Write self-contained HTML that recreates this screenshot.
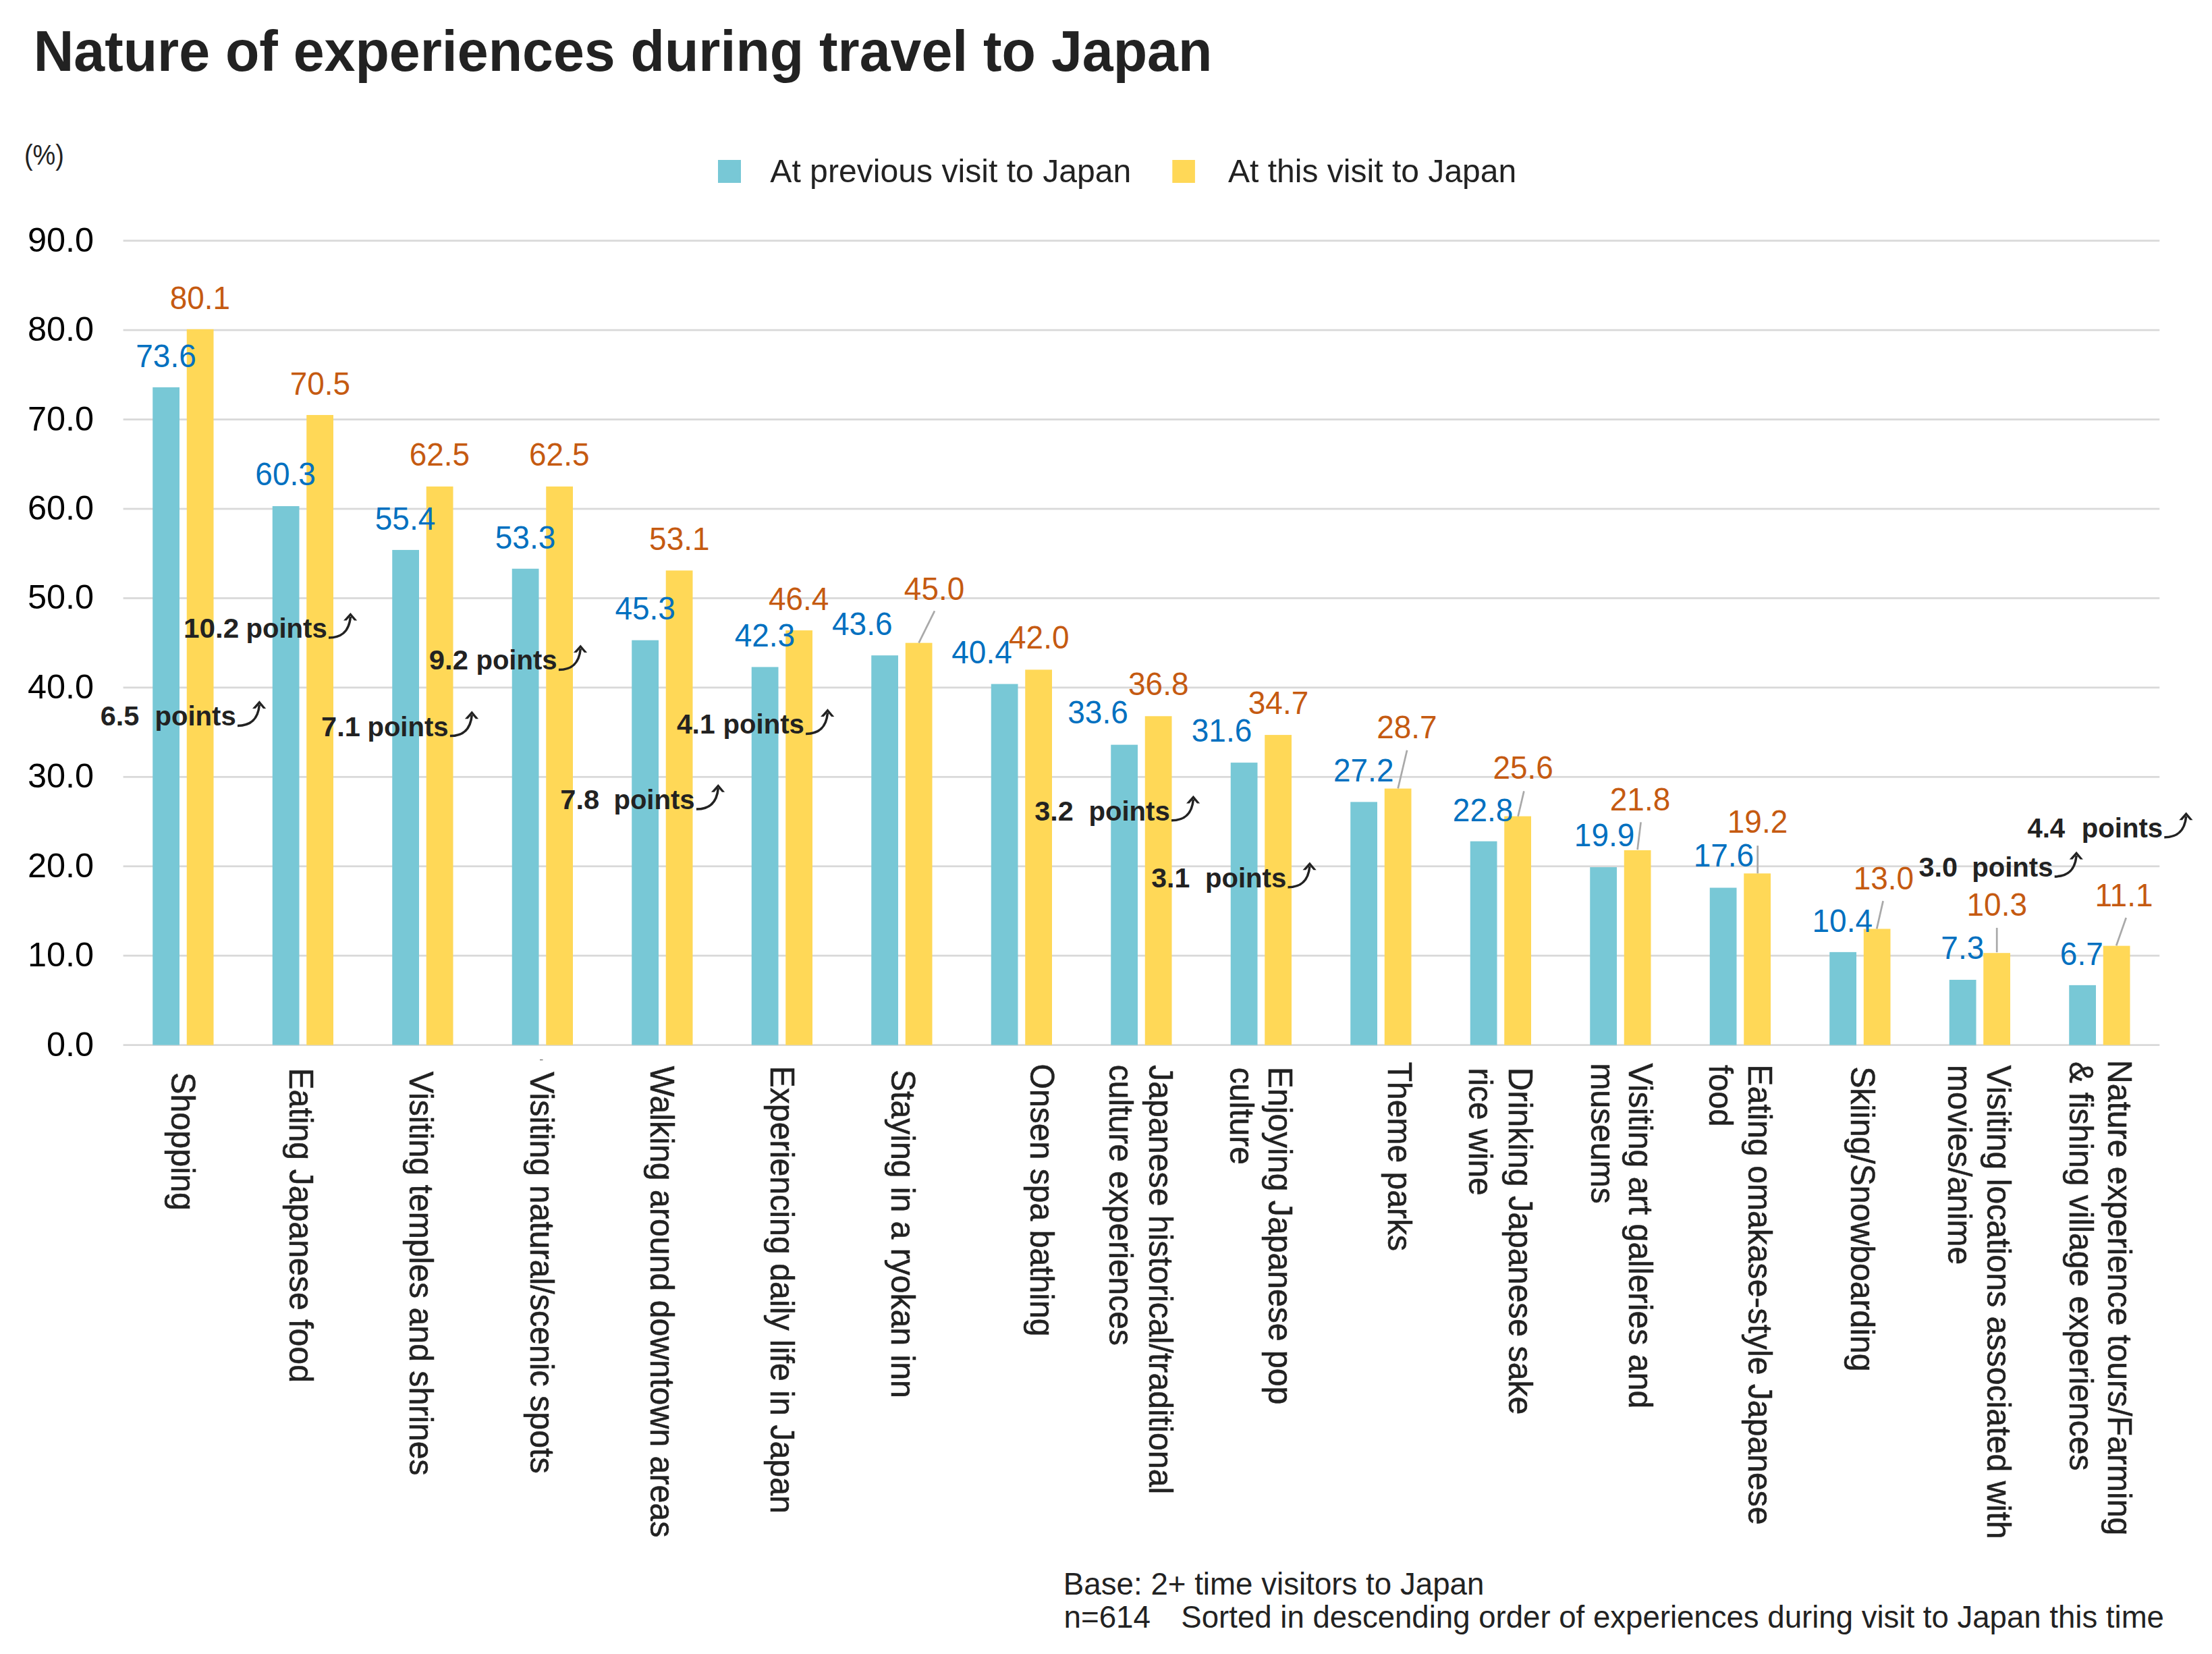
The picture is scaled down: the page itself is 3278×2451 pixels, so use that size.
<!DOCTYPE html>
<html><head><meta charset="utf-8"><title>Nature of experiences during travel to Japan</title>
<style>html,body{margin:0;padding:0;background:#fff}svg{display:block}text{font-family:"Liberation Sans",sans-serif;white-space:pre}</style></head>
<body><svg width="3278" height="2451" viewBox="0 0 3278 2451">
<rect width="3278" height="2451" fill="#fff"/>
<rect x="182.6" y="1547.20" width="3017.7" height="2.8" fill="#D9D9D9"/>
<rect x="182.6" y="1414.77" width="3017.7" height="2.8" fill="#D9D9D9"/>
<rect x="182.6" y="1282.34" width="3017.7" height="2.8" fill="#D9D9D9"/>
<rect x="182.6" y="1149.91" width="3017.7" height="2.8" fill="#D9D9D9"/>
<rect x="182.6" y="1017.48" width="3017.7" height="2.8" fill="#D9D9D9"/>
<rect x="182.6" y="885.05" width="3017.7" height="2.8" fill="#D9D9D9"/>
<rect x="182.6" y="752.62" width="3017.7" height="2.8" fill="#D9D9D9"/>
<rect x="182.6" y="620.19" width="3017.7" height="2.8" fill="#D9D9D9"/>
<rect x="182.6" y="487.76" width="3017.7" height="2.8" fill="#D9D9D9"/>
<rect x="182.6" y="355.33" width="3017.7" height="2.8" fill="#D9D9D9"/>
<rect x="226.25" y="573.92" width="39.75" height="974.68" fill="#78C8D6"/>
<rect x="276.75" y="487.84" width="39.75" height="1060.76" fill="#FFD857"/>
<rect x="403.75" y="750.05" width="39.75" height="798.55" fill="#78C8D6"/>
<rect x="454.25" y="614.97" width="39.75" height="933.63" fill="#FFD857"/>
<rect x="581.25" y="814.94" width="39.75" height="733.66" fill="#78C8D6"/>
<rect x="631.75" y="720.91" width="39.75" height="827.69" fill="#FFD857"/>
<rect x="758.75" y="842.75" width="39.75" height="705.85" fill="#78C8D6"/>
<rect x="809.25" y="720.91" width="39.75" height="827.69" fill="#FFD857"/>
<rect x="936.25" y="948.69" width="39.75" height="599.91" fill="#78C8D6"/>
<rect x="986.75" y="845.40" width="39.75" height="703.20" fill="#FFD857"/>
<rect x="1113.75" y="988.42" width="39.75" height="560.18" fill="#78C8D6"/>
<rect x="1164.25" y="934.12" width="39.75" height="614.48" fill="#FFD857"/>
<rect x="1291.25" y="971.21" width="39.75" height="577.39" fill="#78C8D6"/>
<rect x="1341.75" y="952.66" width="39.75" height="595.94" fill="#FFD857"/>
<rect x="1468.75" y="1013.58" width="39.75" height="535.02" fill="#78C8D6"/>
<rect x="1519.25" y="992.39" width="39.75" height="556.21" fill="#FFD857"/>
<rect x="1646.25" y="1103.64" width="39.75" height="444.96" fill="#78C8D6"/>
<rect x="1696.75" y="1061.26" width="39.75" height="487.34" fill="#FFD857"/>
<rect x="1823.75" y="1130.12" width="39.75" height="418.48" fill="#78C8D6"/>
<rect x="1874.25" y="1089.07" width="39.75" height="459.53" fill="#FFD857"/>
<rect x="2001.25" y="1188.39" width="39.75" height="360.21" fill="#78C8D6"/>
<rect x="2051.75" y="1168.53" width="39.75" height="380.07" fill="#FFD857"/>
<rect x="2178.75" y="1246.66" width="39.75" height="301.94" fill="#78C8D6"/>
<rect x="2229.25" y="1209.58" width="39.75" height="339.02" fill="#FFD857"/>
<rect x="2356.25" y="1285.06" width="39.75" height="263.54" fill="#78C8D6"/>
<rect x="2406.75" y="1259.90" width="39.75" height="288.70" fill="#FFD857"/>
<rect x="2533.75" y="1315.52" width="39.75" height="233.08" fill="#78C8D6"/>
<rect x="2584.25" y="1294.33" width="39.75" height="254.27" fill="#FFD857"/>
<rect x="2711.25" y="1410.87" width="39.75" height="137.73" fill="#78C8D6"/>
<rect x="2761.75" y="1376.44" width="39.75" height="172.16" fill="#FFD857"/>
<rect x="2888.75" y="1451.93" width="39.75" height="96.67" fill="#78C8D6"/>
<rect x="2939.25" y="1412.20" width="39.75" height="136.40" fill="#FFD857"/>
<rect x="3066.25" y="1459.87" width="39.75" height="88.73" fill="#78C8D6"/>
<rect x="3116.75" y="1401.60" width="39.75" height="147.00" fill="#FFD857"/>
<text transform="translate(68.91,1564.60) scale(1.0200,1)" font-size="49.50" fill="#000">0.0</text>
<text transform="translate(40.89,1432.17) scale(1.0200,1)" font-size="49.50" fill="#000">10.0</text>
<text transform="translate(40.89,1299.74) scale(1.0200,1)" font-size="49.50" fill="#000">20.0</text>
<text transform="translate(40.89,1167.31) scale(1.0200,1)" font-size="49.50" fill="#000">30.0</text>
<text transform="translate(40.89,1034.88) scale(1.0200,1)" font-size="49.50" fill="#000">40.0</text>
<text transform="translate(40.89,902.45) scale(1.0200,1)" font-size="49.50" fill="#000">50.0</text>
<text transform="translate(40.89,770.02) scale(1.0200,1)" font-size="49.50" fill="#000">60.0</text>
<text transform="translate(40.89,637.59) scale(1.0200,1)" font-size="49.50" fill="#000">70.0</text>
<text transform="translate(40.89,505.16) scale(1.0200,1)" font-size="49.50" fill="#000">80.0</text>
<text transform="translate(40.89,372.73) scale(1.0200,1)" font-size="49.50" fill="#000">90.0</text>
<text transform="translate(49.73,104.60) scale(0.9706,1)" font-size="85.00" fill="#222222" font-weight="700">Nature of experiences during travel to Japan</text>
<text transform="translate(35.93,243.90) scale(0.8733,1)" font-size="43.40" fill="#222222">(%)</text>
<rect x="1064" y="237" width="34" height="34" fill="#78C8D6"/>
<rect x="1737.3" y="237" width="33.6" height="34" fill="#FFD857"/>
<text transform="translate(1141.28,269.80) scale(0.9903,1)" font-size="48.60" fill="#222222">At previous visit to Japan</text>
<text transform="translate(1819.88,269.80) scale(0.9891,1)" font-size="48.60" fill="#222222">At this visit to Japan</text>
<text transform="translate(201.25,544.10) scale(0.9680,1)" font-size="47.50" fill="#0070C0">73.6</text>
<text transform="translate(251.65,458.20) scale(0.9680,1)" font-size="47.50" fill="#C55A11">80.1</text>
<text transform="translate(378.36,719.30) scale(0.9680,1)" font-size="47.50" fill="#0070C0">60.3</text>
<text transform="translate(429.70,584.80) scale(0.9680,1)" font-size="47.50" fill="#C55A11">70.5</text>
<text transform="translate(555.75,784.80) scale(0.9680,1)" font-size="47.50" fill="#0070C0">55.4</text>
<text transform="translate(606.65,690.20) scale(0.9680,1)" font-size="47.50" fill="#C55A11">62.5</text>
<text transform="translate(733.79,813.20) scale(0.9680,1)" font-size="47.50" fill="#0070C0">53.3</text>
<text transform="translate(784.05,690.20) scale(0.9680,1)" font-size="47.50" fill="#C55A11">62.5</text>
<text transform="translate(911.44,918.00) scale(0.9680,1)" font-size="47.50" fill="#0070C0">45.3</text>
<text transform="translate(962.06,814.60) scale(0.9680,1)" font-size="47.50" fill="#C55A11">53.1</text>
<text transform="translate(1088.69,957.60) scale(0.9680,1)" font-size="47.50" fill="#0070C0">42.3</text>
<text transform="translate(1138.95,903.80) scale(0.9680,1)" font-size="47.50" fill="#C55A11">46.4</text>
<text transform="translate(1233.04,941.20) scale(0.9680,1)" font-size="47.50" fill="#0070C0">43.6</text>
<text transform="translate(1339.83,889.00) scale(0.9680,1)" font-size="47.50" fill="#C55A11">45.0</text>
<text transform="translate(1410.25,983.40) scale(0.9680,1)" font-size="47.50" fill="#0070C0">40.4</text>
<text transform="translate(1495.03,961.10) scale(0.9680,1)" font-size="47.50" fill="#C55A11">42.0</text>
<text transform="translate(1582.30,1072.00) scale(0.9680,1)" font-size="47.50" fill="#0070C0">33.6</text>
<text transform="translate(1672.05,1029.70) scale(0.9680,1)" font-size="47.50" fill="#C55A11">36.8</text>
<text transform="translate(1765.80,1099.30) scale(0.9680,1)" font-size="47.50" fill="#0070C0">31.6</text>
<text transform="translate(1849.77,1058.00) scale(0.9680,1)" font-size="47.50" fill="#C55A11">34.7</text>
<text transform="translate(1975.98,1157.50) scale(0.9680,1)" font-size="47.50" fill="#0070C0">27.2</text>
<text transform="translate(2040.18,1094.30) scale(0.9680,1)" font-size="47.50" fill="#C55A11">28.7</text>
<text transform="translate(2152.86,1217.10) scale(0.9680,1)" font-size="47.50" fill="#0070C0">22.8</text>
<text transform="translate(2212.41,1153.80) scale(0.9680,1)" font-size="47.50" fill="#C55A11">25.6</text>
<text transform="translate(2332.84,1254.00) scale(0.9680,1)" font-size="47.50" fill="#0070C0">19.9</text>
<text transform="translate(2385.76,1200.90) scale(0.9680,1)" font-size="47.50" fill="#C55A11">21.8</text>
<text transform="translate(2509.72,1283.90) scale(0.9680,1)" font-size="47.50" fill="#0070C0">17.6</text>
<text transform="translate(2559.77,1234.20) scale(0.9680,1)" font-size="47.50" fill="#C55A11">19.2</text>
<text transform="translate(2685.53,1380.90) scale(0.9680,1)" font-size="47.50" fill="#0070C0">10.4</text>
<text transform="translate(2746.69,1317.70) scale(0.9680,1)" font-size="47.50" fill="#C55A11">13.0</text>
<text transform="translate(2876.31,1420.60) scale(0.9680,1)" font-size="47.50" fill="#0070C0">7.3</text>
<text transform="translate(2914.52,1356.50) scale(0.9680,1)" font-size="47.50" fill="#C55A11">10.3</text>
<text transform="translate(3052.84,1429.60) scale(0.9680,1)" font-size="47.50" fill="#0070C0">6.7</text>
<text transform="translate(3104.45,1342.60) scale(0.9680,1)" font-size="47.50" fill="#C55A11">11.1</text>
<rect x="800" y="1570" width="4.5" height="1.2" fill="#666"/>
<line x1="1385" y1="905.4" x2="1361.6" y2="952.6" stroke="#A9A9A9" stroke-width="2.7"/>
<line x1="2085.1" y1="1111.7" x2="2071.7" y2="1168.4" stroke="#A9A9A9" stroke-width="2.7"/>
<line x1="2258.4" y1="1172.4" x2="2249.6" y2="1209.8" stroke="#A9A9A9" stroke-width="2.7"/>
<line x1="2431.6" y1="1218.3" x2="2426.6" y2="1259" stroke="#A9A9A9" stroke-width="2.7"/>
<line x1="2604.7" y1="1253.1" x2="2604.7" y2="1294.3" stroke="#A9A9A9" stroke-width="2.7"/>
<line x1="2790.6" y1="1335.1" x2="2781.2" y2="1376.4" stroke="#A9A9A9" stroke-width="2.7"/>
<line x1="2959.2" y1="1374.9" x2="2959.2" y2="1411.2" stroke="#A9A9A9" stroke-width="2.7"/>
<line x1="3150.7" y1="1360" x2="3136.2" y2="1401.2" stroke="#A9A9A9" stroke-width="2.7"/>
<text transform="translate(364.49,944.90) scale(0.9750,1)" font-size="41.13" fill="#222222" font-weight="700">points</text>
<text transform="translate(271.95,944.90) scale(1.0292,1)" font-size="41.13" fill="#222222" font-weight="700">10.2</text>
<g transform="translate(483.1,944.9)"><path d="M3.9,0.1 C20,0.1 34,-6 36.3,-31" fill="none" stroke="#222222" stroke-width="3.5"/><path d="M36.3,-37 L25.9,-25.3 L30.5,-25.3 L36.3,-31.8 L41.9,-25.3 L46.1,-25.3 Z" fill="#222222"/></g>
<text transform="translate(229.49,1075.30) scale(0.9750,1)" font-size="41.13" fill="#222222" font-weight="700">points</text>
<text transform="translate(148.74,1075.30) scale(1.0092,1)" font-size="41.13" fill="#222222" font-weight="700">6.5</text>
<g transform="translate(348.1,1075.3)"><path d="M3.9,0.1 C20,0.1 34,-6 36.3,-31" fill="none" stroke="#222222" stroke-width="3.5"/><path d="M36.3,-37 L25.9,-25.3 L30.5,-25.3 L36.3,-31.8 L41.9,-25.3 L46.1,-25.3 Z" fill="#222222"/></g>
<text transform="translate(544.39,1090.50) scale(0.9750,1)" font-size="41.13" fill="#222222" font-weight="700">points</text>
<text transform="translate(476.03,1090.50) scale(1.0130,1)" font-size="41.13" fill="#222222" font-weight="700">7.1</text>
<g transform="translate(663.0,1090.5)"><path d="M3.9,0.1 C20,0.1 34,-6 36.3,-31" fill="none" stroke="#222222" stroke-width="3.5"/><path d="M36.3,-37 L25.9,-25.3 L30.5,-25.3 L36.3,-31.8 L41.9,-25.3 L46.1,-25.3 Z" fill="#222222"/></g>
<text transform="translate(705.39,992.40) scale(0.9750,1)" font-size="41.13" fill="#222222" font-weight="700">points</text>
<text transform="translate(635.84,992.40) scale(1.0169,1)" font-size="41.13" fill="#222222" font-weight="700">9.2</text>
<g transform="translate(824.0,992.4)"><path d="M3.9,0.1 C20,0.1 34,-6 36.3,-31" fill="none" stroke="#222222" stroke-width="3.5"/><path d="M36.3,-37 L25.9,-25.3 L30.5,-25.3 L36.3,-31.8 L41.9,-25.3 L46.1,-25.3 Z" fill="#222222"/></g>
<text transform="translate(909.39,1199.00) scale(0.9750,1)" font-size="41.13" fill="#222222" font-weight="700">points</text>
<text transform="translate(830.23,1199.00) scale(1.0150,1)" font-size="41.13" fill="#222222" font-weight="700">7.8</text>
<g transform="translate(1028.0,1199.0)"><path d="M3.9,0.1 C20,0.1 34,-6 36.3,-31" fill="none" stroke="#222222" stroke-width="3.5"/><path d="M36.3,-37 L25.9,-25.3 L30.5,-25.3 L36.3,-31.8 L41.9,-25.3 L46.1,-25.3 Z" fill="#222222"/></g>
<text transform="translate(1071.59,1087.30) scale(0.9750,1)" font-size="41.13" fill="#222222" font-weight="700">points</text>
<text transform="translate(1002.89,1087.30) scale(0.9924,1)" font-size="41.13" fill="#222222" font-weight="700">4.1</text>
<g transform="translate(1190.2,1087.3)"><path d="M3.9,0.1 C20,0.1 34,-6 36.3,-31" fill="none" stroke="#222222" stroke-width="3.5"/><path d="M36.3,-37 L25.9,-25.3 L30.5,-25.3 L36.3,-31.8 L41.9,-25.3 L46.1,-25.3 Z" fill="#222222"/></g>
<text transform="translate(1613.49,1215.70) scale(0.9750,1)" font-size="41.13" fill="#222222" font-weight="700">points</text>
<text transform="translate(1533.27,1215.70) scale(1.0073,1)" font-size="41.13" fill="#222222" font-weight="700">3.2</text>
<g transform="translate(1732.1,1215.7)"><path d="M3.9,0.1 C20,0.1 34,-6 36.3,-31" fill="none" stroke="#222222" stroke-width="3.5"/><path d="M36.3,-37 L25.9,-25.3 L30.5,-25.3 L36.3,-31.8 L41.9,-25.3 L46.1,-25.3 Z" fill="#222222"/></g>
<text transform="translate(1785.99,1314.60) scale(0.9750,1)" font-size="41.13" fill="#222222" font-weight="700">points</text>
<text transform="translate(1706.28,1314.60) scale(0.9979,1)" font-size="41.13" fill="#222222" font-weight="700">3.1</text>
<g transform="translate(1904.6,1314.6)"><path d="M3.9,0.1 C20,0.1 34,-6 36.3,-31" fill="none" stroke="#222222" stroke-width="3.5"/><path d="M36.3,-37 L25.9,-25.3 L30.5,-25.3 L36.3,-31.8 L41.9,-25.3 L46.1,-25.3 Z" fill="#222222"/></g>
<text transform="translate(2922.19,1298.80) scale(0.9750,1)" font-size="41.13" fill="#222222" font-weight="700">points</text>
<text transform="translate(2843.47,1298.80) scale(1.0073,1)" font-size="41.13" fill="#222222" font-weight="700">3.0</text>
<g transform="translate(3040.8,1298.8)"><path d="M3.9,0.1 C20,0.1 34,-6 36.3,-31" fill="none" stroke="#222222" stroke-width="3.5"/><path d="M36.3,-37 L25.9,-25.3 L30.5,-25.3 L36.3,-31.8 L41.9,-25.3 L46.1,-25.3 Z" fill="#222222"/></g>
<text transform="translate(3084.79,1240.60) scale(0.9750,1)" font-size="41.13" fill="#222222" font-weight="700">points</text>
<text transform="translate(3004.40,1240.60) scale(0.9761,1)" font-size="41.13" fill="#222222" font-weight="700">4.4</text>
<g transform="translate(3203.4,1240.6)"><path d="M3.9,0.1 C20,0.1 34,-6 36.3,-31" fill="none" stroke="#222222" stroke-width="3.5"/><path d="M36.3,-37 L25.9,-25.3 L30.5,-25.3 L36.3,-31.8 L41.9,-25.3 L46.1,-25.3 Z" fill="#222222"/></g>
<text transform="translate(253.90,1589.02) rotate(90) scale(0.9590,1)" font-size="50.60" fill="#222222" stroke="#222222" stroke-width="0.55">Shopping</text>
<text transform="translate(429.20,1582.42) rotate(90) scale(0.9533,1)" font-size="50.60" fill="#222222" stroke="#222222" stroke-width="0.55">Eating Japanese food</text>
<text transform="translate(606.70,1587.76) rotate(90) scale(0.9521,1)" font-size="50.60" fill="#222222" stroke="#222222" stroke-width="0.55">Visiting temples and shrines</text>
<text transform="translate(785.50,1588.26) rotate(90) scale(0.9550,1)" font-size="50.60" fill="#222222" stroke="#222222" stroke-width="0.55">Visiting natural/scenic spots</text>
<text transform="translate(963.70,1579.76) rotate(90) scale(0.9544,1)" font-size="50.60" fill="#222222" stroke="#222222" stroke-width="0.55">Walking around downtown areas</text>
<text transform="translate(1141.50,1579.41) rotate(90) scale(0.9554,1)" font-size="50.60" fill="#222222" stroke="#222222" stroke-width="0.55">Experiencing daily life in Japan</text>
<text transform="translate(1320.80,1585.04) rotate(90) scale(0.9507,1)" font-size="50.60" fill="#222222" stroke="#222222" stroke-width="0.55">Staying in a ryokan inn</text>
<text transform="translate(1527.20,1576.51) rotate(90) scale(0.9513,1)" font-size="50.60" fill="#222222" stroke="#222222" stroke-width="0.55">Onsen spa bathing</text>
<text transform="translate(1702.70,1578.08) rotate(90) scale(0.9547,1)" font-size="50.60" fill="#222222" stroke="#222222" stroke-width="0.55">Japanese historical/traditional</text>
<text transform="translate(1644.10,1577.76) rotate(90) scale(0.9489,1)" font-size="50.60" fill="#222222" stroke="#222222" stroke-width="0.55">culture experiences</text>
<text transform="translate(1880.30,1580.83) rotate(90) scale(0.9517,1)" font-size="50.60" fill="#222222" stroke="#222222" stroke-width="0.55">Enjoying Japanese pop</text>
<text transform="translate(1823.10,1581.76) rotate(90) scale(0.9505,1)" font-size="50.60" fill="#222222" stroke="#222222" stroke-width="0.55">culture</text>
<text transform="translate(2056.80,1573.72) rotate(90) scale(0.9492,1)" font-size="50.60" fill="#222222" stroke="#222222" stroke-width="0.55">Theme parks</text>
<text transform="translate(2236.30,1581.72) rotate(90) scale(0.9533,1)" font-size="50.60" fill="#222222" stroke="#222222" stroke-width="0.55">Drinking Japanese sake</text>
<text transform="translate(2177.20,1582.46) rotate(90) scale(0.9482,1)" font-size="50.60" fill="#222222" stroke="#222222" stroke-width="0.55">rice wine</text>
<text transform="translate(2414.20,1575.56) rotate(90) scale(0.9547,1)" font-size="50.60" fill="#222222" stroke="#222222" stroke-width="0.55">Visiting art galleries and</text>
<text transform="translate(2357.50,1575.56) rotate(90) scale(0.9497,1)" font-size="50.60" fill="#222222" stroke="#222222" stroke-width="0.55">museums</text>
<text transform="translate(2591.20,1577.33) rotate(90) scale(0.9513,1)" font-size="50.60" fill="#222222" stroke="#222222" stroke-width="0.55">Eating omakase-style Japanese</text>
<text transform="translate(2533.00,1578.10) rotate(90) scale(0.9281,1)" font-size="50.60" fill="#222222" stroke="#222222" stroke-width="0.55">food</text>
<text transform="translate(2742.90,1580.13) rotate(90) scale(0.9522,1)" font-size="50.60" fill="#222222" stroke="#222222" stroke-width="0.55">Skiing/Snowboarding</text>
<text transform="translate(2945.30,1578.56) rotate(90) scale(0.9539,1)" font-size="50.60" fill="#222222" stroke="#222222" stroke-width="0.55">Visiting locations associated with</text>
<text transform="translate(2887.10,1578.06) rotate(90) scale(0.9491,1)" font-size="50.60" fill="#222222" stroke="#222222" stroke-width="0.55">movies/anime</text>
<text transform="translate(3124.30,1570.82) rotate(90) scale(0.9527,1)" font-size="50.60" fill="#222222" stroke="#222222" stroke-width="0.55">Nature experience tours/Farming</text>
<text transform="translate(3067.10,1573.12) rotate(90) scale(0.9501,1)" font-size="50.60" fill="#222222" stroke="#222222" stroke-width="0.55">&amp; fishing village experiences</text>
<text transform="translate(1575.83,2362.70) scale(1.0004,1)" font-size="45.70" fill="#222222">Base: 2+ time visitors to Japan</text>
<text transform="translate(1576.51,2412.30) scale(1.0012,1)" font-size="45.70" fill="#222222">n=614</text>
<text transform="translate(1750.35,2412.30) scale(0.9977,1)" font-size="45.70" fill="#222222">Sorted in descending order of experiences during visit to Japan this time</text>
</svg></body></html>
